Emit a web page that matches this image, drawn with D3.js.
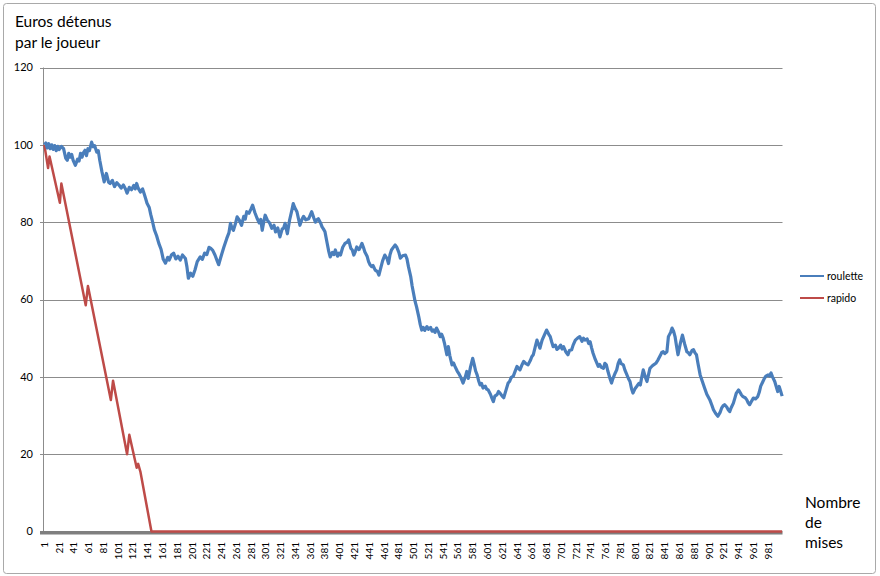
<!DOCTYPE html>
<html><head><meta charset="utf-8">
<script src="https://cdn.jsdelivr.net/npm/d3@7/dist/d3.min.js"></script>
<style>body{margin:0;background:#fff}svg{display:block}text{font-family:Lato,"Open Sans",sans-serif;fill:#000}</style>
</head><body><svg id="c" width="880" height="576"></svg>
<script>
const yTicks = [0, 20, 40, 60, 80, 100, 120];
const xTickLabels = d3.range(1, 1000, 20);
const seriesNames = ["roulette", "rapido"];
const seriesColors = ["#4a7ebb", "#be4b48"];
const yTitle = ["Euros détenus", "par le joueur"];
const xTitle = ["Nombre", "de", "mises"];
// [bet number, euros]
const roulette = [[1,100],[3,100.5],[5,99.2],[7,100.3],[9,99],[11,100],[13,98.8],[15,99.8],[17,98.5],[19,99.6],[21,98.8],[24,99.6],[27,99],[30,96.5],[32,96],[34,97.8],[36,96.8],[38,97.5],[40,96],[43,94.7],[46,96.3],[48,95.8],[50,97.8],[52,96.8],[54,98],[56,98.6],[58,97.2],[60,99],[62,98.5],[65,100.7],[67,99.5],[69,99.8],[72,98.1],[74,98.5],[76,96],[79,93],[82,90.4],[85,92.6],[88,90.3],[90,90],[93,90.8],[96,89.2],[99,90.2],[102,89.6],[105,88.8],[108,89.6],[111,88.5],[113,87.5],[116,89],[119,88.4],[122,89.5],[124,88.6],[126,90],[128,88.8],[131,87.8],[134,88.6],[136,87.4],[138,86.2],[140,84.9],[143,83.8],[145,82],[147,80.5],[150,78],[153,76.5],[156,74.5],[159,73],[162,70.4],[165,69.4],[168,70.9],[170,70.2],[173,71.5],[176,72],[179,70.5],[182,71.2],[185,70.2],[188,71.5],[192,70.6],[194,68.5],[196,65.5],[199,66.8],[202,66],[205,67.7],[208,69.8],[212,71],[215,70.4],[218,72],[221,71.6],[224,73.5],[226,73.3],[229,72.7],[232,71.5],[235,70],[237,69],[240,71],[244,73.5],[248,75.8],[251,77.3],[253,79.7],[255,78.5],[257,77.9],[260,79.8],[262,81.4],[265,80.5],[268,79.2],[271,81.5],[273,80.8],[275,82.7],[278,82.3],[281,83.5],[283,84.4],[286,82.5],[289,81],[292,79.8],[294,80.7],[296,77.9],[298,80],[300,81.8],[303,80.5],[306,79.8],[309,78.4],[312,79.2],[314,77.5],[317,78.5],[320,76.2],[323,78.2],[325,78.5],[327,79.7],[330,77],[333,80.5],[336,83],[338,84.8],[340,83.8],[343,82.7],[345,81],[347,79.2],[350,80.8],[352,81.5],[355,80.6],[359,80.9],[361,81.8],[363,82.7],[366,81],[368,80],[370,80.6],[372,80.9],[375,79.8],[377,78.8],[379,78.2],[381,77.5],[384,74.5],[386,72.5],[388,71],[391,72.2],[393,71.6],[395,72.8],[398,71.2],[400,72],[402,71.5],[405,73.5],[408,74.5],[411,74.8],[413,75.4],[416,73.2],[418,72.8],[420,71.5],[422,72.4],[424,73.6],[427,72.9],[429,73.6],[431,74.5],[433,73.5],[435,72.3],[438,71.2],[440,69.8],[442,69],[444,68.5],[446,68.8],[449,67.6],[452,67.2],[454,66.3],[456,67.8],[459,70],[462,71.5],[465,70.6],[467,69.3],[469,71.6],[471,72.8],[474,73.6],[476,74.1],[478,73.6],[481,72.2],[483,70.7],[486,71.3],[490,71.5],[492,70.5],[494,68.5],[497,66],[499,63.5],[501,61.5],[503,59.5],[505,58.1],[508,55.5],[510,53.5],[512,52.1],[514,52.8],[516,52],[519,53],[521,52.3],[524,52.8],[526,51.8],[528,52.1],[530,51.5],[532,52.6],[535,51.5],[537,50.4],[539,51],[541,50],[543,48.5],[546,45.7],[548,47.8],[550,45.5],[553,43.1],[555,43.6],[557,42.7],[560,41.5],[562,40.9],[565,39.8],[568,38.4],[571,40],[573,41.4],[575,39.6],[578,42.5],[581,44.8],[583,43.2],[585,41.5],[587,40.5],[589,39],[591,37.9],[593,38.3],[595,37.1],[598,37.6],[600,36.8],[602,36.6],[605,35.5],[607,34.5],[609,33.6],[611,35],[614,35.4],[616,36.2],[618,35.8],[621,35],[623,34.6],[626,36.5],[629,38.4],[631,38.8],[633,39.8],[636,40.2],[638,41.2],[641,42.7],[643,42.2],[645,41.8],[648,43.2],[650,44],[653,43.4],[656,43.1],[659,44.2],[661,45.2],[663,45.7],[666,48],[668,49.5],[670,48.5],[672,47.4],[675,49.5],[678,50.8],[681,52.1],[684,51],[686,50.4],[688,49],[690,47.8],[693,48.2],[695,47.1],[697,47.4],[700,48.2],[702,47.2],[704,47.8],[707,46.5],[710,45.7],[712,46.8],[715,47],[717,48.2],[720,49.5],[723,50],[726,50.4],[729,49.2],[731,50],[733,49.5],[736,49.8],[738,48.6],[740,49.1],[742,47.5],[744,46.1],[747,44.5],[749,43.6],[751,42.7],[753,43.2],[755,42.5],[758,42.2],[760,43.5],[762,43.1],[764,41.5],[767,39.5],[769,38.4],[771,39.6],[774,41],[776,41.8],[778,43.5],[780,44.4],[782,43.4],[785,43.1],[787,41.8],[789,40.9],[792,39.5],[794,38.8],[796,37],[798,35.8],[801,37],[803,37.5],[806,38.3],[808,37.9],[810,40],[812,41.8],[815,39.8],[817,38.8],[819,40.5],[821,42.2],[824,42.8],[826,43.1],[829,43.5],[832,44.4],[835,45.5],[837,46.3],[839,46.5],[841,46],[844,46.5],[846,50.4],[849,51.5],[851,52.6],[853,51.8],[855,50.4],[857,48],[859,45.7],[862,48.5],[865,50.8],[868,48.5],[871,46.5],[873,46.2],[875,45.7],[878,46.8],[880,47],[882,46.2],[884,45.7],[886,43.5],[889,40.5],[892,38.8],[895,37.1],[898,35.5],[902,34.1],[905,32.6],[907,31.5],[910,30.5],[913,29.8],[916,30.8],[918,31.9],[920,32.5],[922,32.8],[925,32.2],[927,31.5],[929,31],[931,32],[934,33.2],[936,34.5],[938,35.8],[941,36.6],[943,36],[945,35.3],[947,34.9],[950,34.6],[952,34.1],[954,33.3],[956,32.8],[958,33.5],[961,34.5],[964,34.3],[967,34.9],[969,36],[971,37.6],[974,38.8],[976,39.6],[978,40.2],[981,40.5],[983,40.2],[985,41],[987,40],[990,38.8],[992,37.5],[994,36.2],[996,37.5],[998,36.3],[1000,35]];
const rapido = [[1,100],[6,94],[8,97],[22,85],[24,90],[57,58.5],[60,63.5],[91,34],[94,39],[113,20],[116,25],[126,16.5],[128,17.5],[131,15.5],[146,0],[1000,0]];

const svg = d3.select("#c");
svg.append("rect").attr("x",0).attr("y",0).attr("width",880).attr("height",576).attr("fill","#fff");
svg.append("rect").attr("x",3.5).attr("y",3.5).attr("width",872).attr("height",570).attr("rx",3)
  .attr("fill","#fff").attr("stroke","#a9a9a9").attr("stroke-width",1);

const x = d3.scaleLinear().domain([0.5, 1000.5]).range([44, 782.5]);
const y = d3.scaleLinear().domain([0, 120]).range([531.5, 67.5]);

// gridlines
svg.append("g").selectAll("line").data(yTicks.filter(d=>d>0)).join("line")
  .attr("x1", 40).attr("x2", x(1000.5)).attr("y1", d=>Math.round(y(d))+0.5).attr("y2", d=>Math.round(y(d))+0.5)
  .attr("stroke","#8c8c8c").attr("stroke-width",1);
// y axis line
svg.append("line").attr("x1",43.5).attr("x2",43.5).attr("y1",y(120)).attr("y2",y(0)+2)
  .attr("stroke","#8c8c8c").attr("stroke-width",1);
// y labels
svg.append("g").selectAll("text").data(yTicks).join("text")
  .attr("x", 33).attr("y", d=>y(d)).attr("dy","0.35em").attr("text-anchor","end")
  .style("font-size","11px").text(d=>d);
// x axis (thick)
svg.append("line").attr("x1",40).attr("x2",x(1000.5)).attr("y1",y(0)+1.3).attr("y2",y(0)+1.3)
  .attr("stroke","#7f7f7f").attr("stroke-width",3.5);
// x labels
svg.append("g").selectAll("text").data(xTickLabels).join("text")
  .attr("transform", d=>`translate(${x(d)},542) rotate(-90)`)
  .attr("dy","0.35em").attr("text-anchor","end").style("font-size","10px").text(d=>d);

const line = d3.line().x(d=>x(d[0])).y(d=>y(d[1])).curve(d3.curveLinear);
svg.append("path").datum(rapido).attr("d",line).attr("fill","none")
  .attr("stroke",seriesColors[1]).attr("stroke-width",2.5).attr("stroke-linejoin","round");
svg.append("path").datum(roulette).attr("d",line).attr("fill","none")
  .attr("stroke",seriesColors[0]).attr("stroke-width",3.2).attr("stroke-linejoin","round");

// titles
svg.append("g").selectAll("text").data(yTitle).join("text")
  .attr("x",15).attr("y",(d,i)=>27+i*21).style("font-size","15.5px").text(d=>d);
svg.append("g").selectAll("text").data(xTitle).join("text")
  .attr("x",805).attr("y",(d,i)=>508+i*20).style("font-size","15.5px").text(d=>d);

// legend
const lg = svg.append("g").selectAll("g").data(seriesNames).join("g")
  .attr("transform",(d,i)=>`translate(800,${276+i*22})`);
lg.append("line").attr("x1",0).attr("x2",24).attr("y1",0).attr("y2",0)
  .attr("stroke",(d,i)=>seriesColors[i]).attr("stroke-width",2);
lg.append("text").attr("x",27).attr("dy","0.35em").style("font-size","10.5px").text(d=>d);
</script></body></html>
